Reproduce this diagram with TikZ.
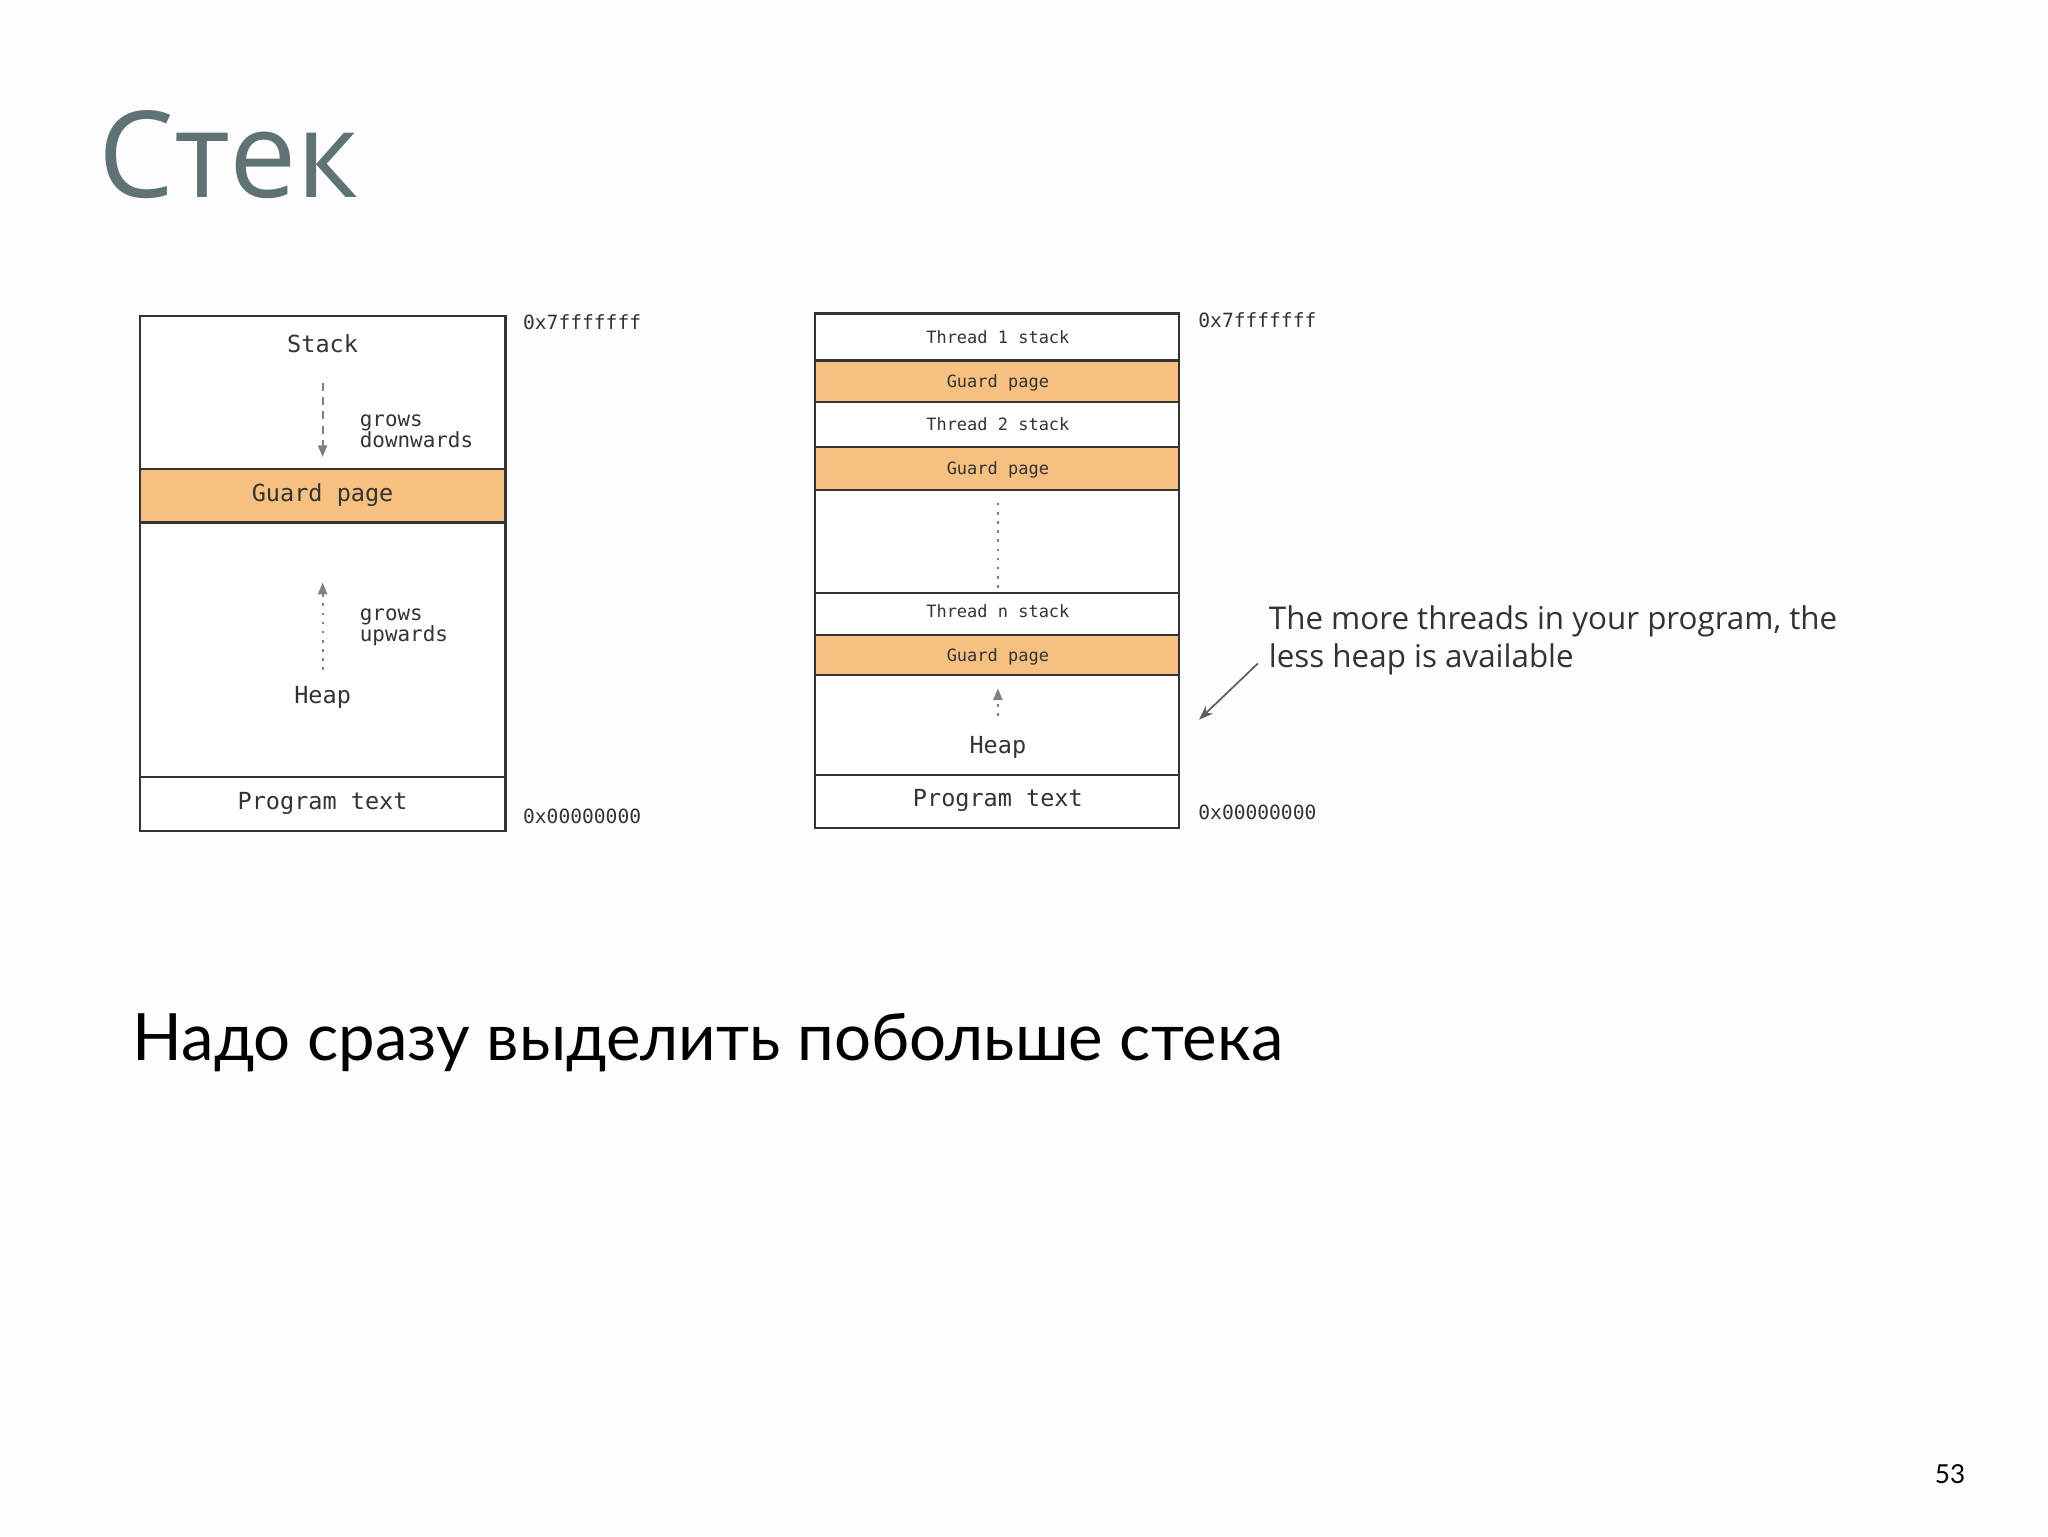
\documentclass[tikz,border=0pt]{standalone}
\usepackage{fontspec}
\setmainfont{Lato}
\setmonofont{DejaVu Sans Mono}
\usetikzlibrary{arrows.meta}
\definecolor{guard}{HTML}{F5C080}
\definecolor{titlec}{HTML}{5F7374}
\definecolor{bg}{HTML}{FDFCFE}
\definecolor{ln}{HTML}{333333}
\tikzset{
 cell/.style={draw=ln,line width=1.6pt},
 gcell/.style={cell,fill=guard},
 mono/.style={font=\ttfamily\fontsize{#1}{#1}\selectfont,text=ln},
 addr/.style={mono=15,anchor=west},
 growarrow/.style={draw=gray,line width=1.4pt,-{Triangle[length=9pt,width=7pt]}}
}
\begin{document}
\begin{tikzpicture}[x=1pt,y=-1pt]
\fill[bg] (0,0) rectangle (1568,1176);
\useasboundingbox (0,0) rectangle (1568,1176);
\node[anchor=west,text=titlec,font=\fontsize{92}{92}\selectfont\sffamily] (title) at (72,118) {\fontspec{Open Sans}Стек};
% left diagram
\draw[cell,fill=white] (107,242) rectangle (387,636);
\draw[gcell] (107,359) rectangle (387,400);
\draw[cell] (107,595) -- (387,595);
\node[mono=18] (lstack) at (247,263) {Stack};
\node[mono=18] (lguard) at (247,379) {Guard page};
\node[mono=18] (lheap) at (247,534) {Heap};
\node[mono=18] (lprog) at (247,615) {Program text};
\coordinate (d1) at (247,293); \coordinate (d2) at (247,350);
\draw[growarrow,dash pattern=on 6pt off 5pt] (d1) -- (d2);
\coordinate (u1) at (247,513); \coordinate (u2) at (247,446);
\draw[growarrow,dash pattern=on 2pt off 5pt] (u1) -- (u2);
\node[mono=16,anchor=west,align=left] (gd) at (272,330) {grows\\downwards};
\node[mono=16,anchor=west,align=left] (gu) at (272,480) {grows\\upwards};
\node[addr] (la1) at (397,247) {0x7fffffff};
\node[addr] (la2) at (397,625) {0x00000000};
% right diagram
\draw[cell,fill=white] (624,240) rectangle (903,634);
\draw[gcell] (624,276) rectangle (903,308);
\draw[gcell] (624,342) rectangle (903,375);
\draw[gcell] (624,486) rectangle (903,517);
\draw[cell] (624,454) -- (903,454);
\draw[cell] (624,593) -- (903,593);
\node[mono=13] (t1) at (764,258) {Thread 1 stack};
\node[mono=13] (g1) at (764,293) {Guard page};
\node[mono=13] (t2) at (764,325) {Thread 2 stack};
\node[mono=13] (g2) at (764,360) {Guard page};
\node[mono=13] (tn) at (764,468) {Thread n stack};
\node[mono=13] (g3) at (764,503) {Guard page};
\node[mono=18] (rheap) at (764,572) {Heap};
\node[mono=18] (rprog) at (764,613) {Program text};
\coordinate (v1) at (764,385); \coordinate (v2) at (764,452);
\draw[draw=gray,line width=1.4pt,dash pattern=on 2pt off 5pt] (v1) -- (v2);
\coordinate (h1) at (764,548); \coordinate (h2) at (764,527);
\draw[growarrow,dash pattern=on 2pt off 5pt] (h1) -- (h2);
\node[addr] (ra1) at (914,245) {0x7fffffff};
\node[addr] (ra2) at (914,622) {0x00000000};
\node[anchor=west,align=left,text=ln,font=\fontsize{24}{29}\selectfont] (note) at (968,490) {\fontspec{Open Sans}The more threads in your program, the\\\fontspec{Open Sans}less heap is available};
\coordinate (n1) at (963,508); \coordinate (n2) at (918,551);
\draw[draw=ln!80,line width=1.3pt,-{Stealth[length=11pt,width=8pt]}] (n1) -- (n2);
% bottom text
\node[anchor=west,font=\fontsize{50}{50}\selectfont] (sub) at (98,798) {\fontspec{Lato}Надо сразу выделить побольше стека};
\node[font=\fontsize{20}{20}\selectfont] (pg) at (1493,1129) {53};
\end{tikzpicture}
\end{document}
